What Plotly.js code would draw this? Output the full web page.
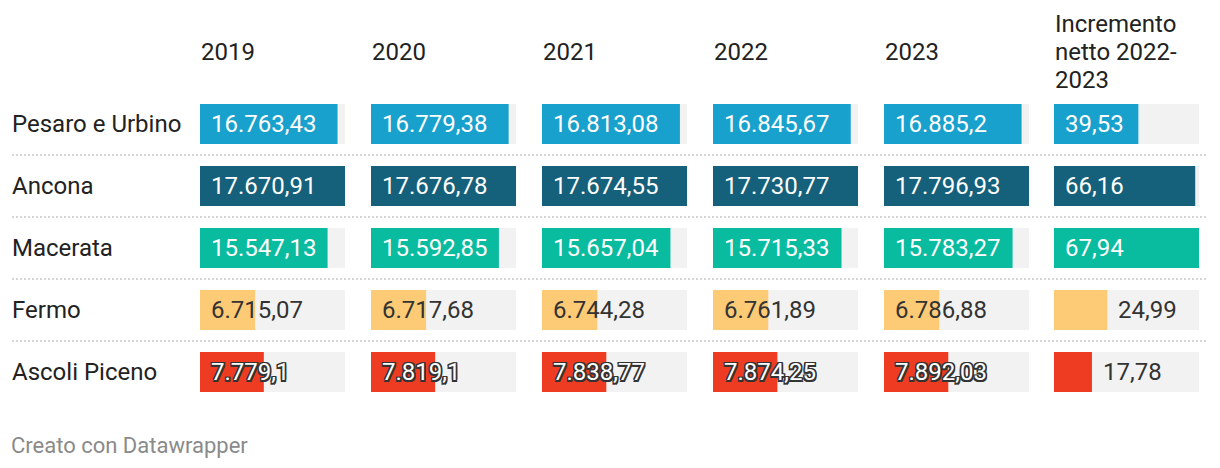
<!DOCTYPE html>
<html>
<head>
<meta charset="utf-8">
<script src="https://cdn.plot.ly/plotly-3.0.1.min.js"></script>
<style>
  html, body { margin: 0; padding: 0; background: #ffffff; }
  #chart { width: 1220px; height: 468px; }
</style>
</head>
<body>
<div id="chart"></div>
<script>
// ---- DATA ----
const provinces = ["Pesaro e Urbino", "Ancona", "Macerata", "Fermo", "Ascoli Piceno"];
const columnHeaders = ["2019", "2020", "2021", "2022", "2023", "Incremento<br>netto 2022-<br>2023"];
const v2019 = [16763.43, 17670.91, 15547.13, 6715.07, 7779.1];
const v2020 = [16779.38, 17676.78, 15592.85, 6717.68, 7819.1];
const v2021 = [16813.08, 17674.55, 15657.04, 6744.28, 7838.77];
const v2022 = [16845.67, 17730.77, 15715.33, 6761.89, 7874.25];
const v2023 = [16885.2, 17796.93, 15783.27, 6786.88, 7892.03];
const increment = [39.53, 66.16, 67.94, 24.99, 17.78];
const footerText = "Creato con Datawrapper";

// ---- STYLE ----
const W = 1220, H = 468;
const rowColors = ["#18a1cd", "#15607a", "#09bb9f", "#fdca75", "#ee3c22"];
const bgColor = "#f2f2f2";
const textDark = "#222222";
const FONT = "Roboto, 'Noto Sans', sans-serif";
const colStarts = [200, 371, 542, 713, 884, 1054];
const colWidth = 145;
const rowTop0 = 124, rowPitch = 62, barH = 40;

const columns = [v2019, v2020, v2021, v2022, v2023, increment];

function fmt(v) {
  const s = String(v);
  const parts = s.split(".");
  const intPart = parts[0].replace(/\B(?=(\d{3})+(?!\d))/g, ".");
  return parts.length > 1 ? intPart + "," + parts[1] : intPart;
}

const rowIdx = provinces.map((_, i) => i);
const traces = [];
const layout = {
  width: W, height: H,
  margin: {l: 0, r: 0, t: 0, b: 0},
  paper_bgcolor: "#ffffff", plot_bgcolor: "rgba(0,0,0,0)",
  showlegend: false,
  barmode: "overlay",
  font: {family: FONT, size: 24, color: textDark},
  yaxis: {
    domain: [0, 1],
    range: [(H - rowTop0) / rowPitch, -rowTop0 / rowPitch],
    visible: false, fixedrange: true
  },
  annotations: [],
  shapes: []
};

const shadow = "-1.5px -1.5px 0 #333, 1.5px -1.5px 0 #333, -1.5px 1.5px 0 #333, 1.5px 1.5px 0 #333, 0 1.5px 0 #333, 1.5px 0 0 #333, 0 -1.5px 0 #333, -1.5px 0 0 #333";

columns.forEach((vals, c) => {
  const ax = c === 0 ? "" : String(c + 1);
  const xName = "xaxis" + ax;
  const maxV = Math.max(...vals);
  layout[xName] = {
    domain: [colStarts[c] / W, (colStarts[c] + colWidth) / W],
    range: [0, maxV],
    visible: false, fixedrange: true, anchor: "y"
  };
  // background bars
  traces.push({
    type: "bar", orientation: "h", xaxis: "x" + ax, yaxis: "y",
    x: vals.map(() => maxV), y: rowIdx, width: barH / rowPitch,
    marker: {color: bgColor, line: {width: 0}}, hoverinfo: "skip"
  });
  // value bars
  traces.push({
    type: "bar", orientation: "h", xaxis: "x" + ax, yaxis: "y",
    x: vals, y: rowIdx, width: barH / rowPitch,
    marker: {color: rowColors, line: {width: 0}}, hoverinfo: "skip"
  });
  // labels
  vals.forEach((v, r) => {
    const outside = (c === 5) && (v / maxV < 0.5);
    let font = {family: FONT, size: 24, color: "#ffffff"};
    if (r === 3 || outside) font.color = "#333333";
    else if (r === 4) font = {family: FONT, size: 24, color: "#ffffff", shadow: shadow};
    layout.annotations.push({
      xref: "x" + ax, yref: "y",
      x: outside ? v : 0, y: r,
      xanchor: "left", yanchor: "middle",
      xshift: outside ? 9 : 9,
      text: fmt(v), showarrow: false, font: font
    });
  });
  // headers (one annotation per line)
  const lines = columnHeaders[c].split("<br>");
  const lineGap = 28, centerY = 52;
  lines.forEach((ln, k) => {
    const py = centerY + (k - (lines.length - 1) / 2) * lineGap;
    layout.annotations.push({
      xref: "paper", yref: "paper",
      x: (colStarts[c] - 1) / W, y: 1 - py / H,
      xanchor: "left", yanchor: "middle",
      text: ln, showarrow: false,
      font: {family: FONT, size: 24, color: textDark}
    });
  });
});

// row labels
provinces.forEach((p, r) => {
  layout.annotations.push({
    xref: "paper", yref: "y", x: 10 / W, y: r,
    xanchor: "left", yanchor: "middle",
    text: p, showarrow: false,
    font: {family: FONT, size: 24, color: textDark}
  });
  if (r < provinces.length - 1) {
    layout.shapes.push({
      type: "line", xref: "paper", yref: "y",
      x0: 12 / W, x1: 1208 / W, y0: r + 0.5, y1: r + 0.5,
      line: {color: "#d6d6d6", width: 2, dash: "2px,2px"}
    });
  }
});

// footer
layout.annotations.push({
  xref: "paper", yref: "paper", x: 9 / W, y: 1 - 445 / H,
  xanchor: "left", yanchor: "middle",
  text: footerText, showarrow: false,
  font: {family: FONT, size: 22, color: "#8a8a8a"}
});

Plotly.newPlot("chart", traces, layout, {displayModeBar: false, staticPlot: true});
</script>
</body>
</html>
